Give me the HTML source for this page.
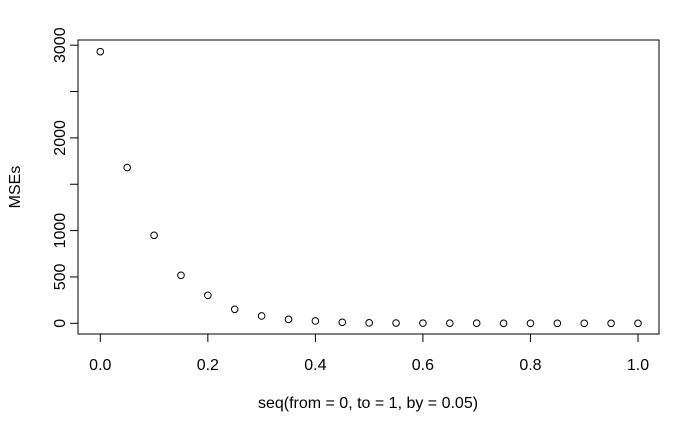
<!DOCTYPE html>
<html><head><meta charset="utf-8"><style>body{margin:0;background:#fff}svg{display:block}text{font-family:"Liberation Sans",Arial,sans-serif;font-size:16px;fill:#000}</style></head>
<body>
<svg id="chart" width="700" height="432">
<rect x="78" y="40" width="581" height="294" fill="none" stroke="#000" stroke-width="1"/>
<g id="xaxis"></g>
<g id="yaxis"></g>
<g id="points"></g>
<text x="368" y="408" text-anchor="middle">seq(from = 0, to = 1, by = 0.05)</text>
<text transform="translate(20,187) rotate(-90)" text-anchor="middle">MSEs</text>
</svg>
<script>
const xs = [0,0.05,0.1,0.15,0.2,0.25,0.3,0.35,0.4,0.45,0.5,0.55,0.6,0.65,0.7,0.75,0.8,0.85,0.9,0.95,1.0];
const mses = [2930,1680,949,518,302,151,79,43,25,11,5,3,2,1,1,0,0,0,0,0,0];
const xTicks = [0,0.2,0.4,0.6,0.8,1.0];
const xTickLabels = ["0.0","0.2","0.4","0.6","0.8","1.0"];
const yTicks = [0,500,1000,1500,2000,2500,3000];
const yTickLabels = ["0","500","1000","","2000","","3000"];
const NS="http://www.w3.org/2000/svg";
const X=v=>100.3+v*537.7;
const Y=v=>323.3-v*0.0927;
function mk(t,a,p){const e=document.createElementNS(NS,t);for(const k in a)e.setAttribute(k,a[k]);p.appendChild(e);return e;}
const xa=document.getElementById('xaxis'),ya=document.getElementById('yaxis'),pg=document.getElementById('points');
mk('line',{x1:X(xTicks[0]),x2:X(xTicks[xTicks.length-1]),y1:334,y2:334,stroke:'#000'},xa);
xTicks.forEach((v,i)=>{
 const l=mk('line',{x1:X(v),x2:X(v),y1:334,y2:342,stroke:'#000'},xa);
 
 
 const t=mk('text',{x:X(v),y:370,'text-anchor':'middle'},xa);t.textContent=xTickLabels[i];
 
 
});
mk('line',{x1:78,x2:78,y1:Y(yTicks[0]),y2:Y(yTicks[yTicks.length-1]),stroke:'#000'},ya);
yTicks.forEach((v,i)=>{
 const l=mk('line',{x1:70,x2:78,y1:Y(v),y2:Y(v),stroke:'#000'},ya);
 
 
 if(yTickLabels[i]){const t=mk('text',{transform:`translate(65,${Y(v)}) rotate(-90)`,'text-anchor':'middle'},ya);t.textContent=yTickLabels[i];
 
 }
});
xs.forEach((v,i)=>{
 const c=mk('circle',{cx:X(v),cy:Y(mses[i]),r:3.3,fill:'none',stroke:'#000','stroke-width':1},pg);
 
 
});
</script>
</body></html>
